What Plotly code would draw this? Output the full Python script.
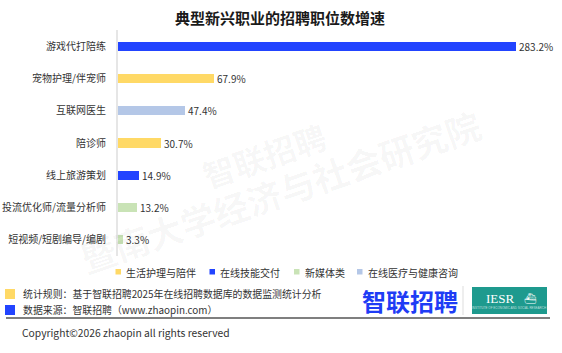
import plotly.graph_objects as go

# ---- data ----
categories = ["游戏代打陪练", "宠物护理/伴宠师", "互联网医生", "陪诊师",
              "线上旅游策划", "投流优化师/流量分析师", "短视频/短剧编导/编剧"]
values = [283.2, 67.9, 47.4, 30.7, 14.9, 13.2, 3.3]
groups = ["在线技能交付", "生活护理与陪伴", "在线医疗与健康咨询", "生活护理与陪伴",
          "在线技能交付", "新媒体类", "新媒体类"]
legend_order = ["生活护理与陪伴", "在线技能交付", "新媒体类", "在线医疗与健康咨询"]
group_colors = {"生活护理与陪伴": "#FFD966", "在线技能交付": "#2244FF",
                "新媒体类": "#C9E3B6", "在线医疗与健康咨询": "#B4C7E7"}
title = "典型新兴职业的招聘职位数增速"
note_rule = "统计规则：基于智联招聘2025年在线招聘数据库的数据监测统计分析"
note_src = "数据来源：智联招聘（www.zhaopin.com）"
copyright_txt = "Copyright©2026 zhaopin all rights reserved"

CJK = "Noto Sans CJK SC, Microsoft YaHei, sans-serif"
W, H = 562, 353
L, R, T, B = 118, 22, 30, 97

fig = go.Figure()
for g in legend_order:
    ys = [c for c, gg in zip(categories, groups) if gg == g]
    xs = [v for v, gg in zip(values, groups) if gg == g]
    fig.add_trace(go.Bar(
        y=ys, x=xs, orientation="h", name=g, showlegend=False,
        marker=dict(color=group_colors[g], line=dict(width=0)),
        width=0.28, text=[f"{v:.1f}%" for v in xs], textposition="outside",
        constraintext="none",
        textfont=dict(family=CJK, size=10, color="#333333"),
        cliponaxis=False, hoverinfo="skip"))

fig.update_layout(
    width=W, height=H, margin=dict(l=L, r=R, t=T, b=B),
    paper_bgcolor="white", plot_bgcolor="white",
    font=dict(family=CJK, color="#333333"),
    barmode="overlay", bargap=0, uniformtext=dict(mode=False),
    xaxis=dict(range=[0, 300], visible=False, fixedrange=True, automargin=False),
    yaxis=dict(categoryorder="array", categoryarray=categories[::-1],
               showline=True, linecolor="#E6E6E6", linewidth=2, automargin=False,
               showgrid=False, ticks="", ticklabelstandoff=8,
               tickfont=dict(family=CJK, size=10, color="#333333")),
)

pw = W - L - R
ph = H - T - B
def px(x):
    return (x - L) / pw
def py(y):
    return (H - B - y) / ph

ann = []
shapes = []
# title
ann.append(dict(text=f"<b>{title}</b>", x=px(280), y=py(17), xref="paper", yref="paper",
                showarrow=False, font=dict(family=CJK, size=15, color="#1a1a1a"),
                xanchor="center", yanchor="middle"))
# watermarks
wm_col = "rgba(0,0,0,0.04)"
ann.append(dict(text="<b>智联招聘</b>", x=px(264), y=py(155), xref="paper", yref="paper",
                showarrow=False, textangle=-19, font=dict(family=CJK, size=32, color=wm_col),
                xanchor="center", yanchor="middle"))
ann.append(dict(text="<b>暨南大学经济与社会研究院</b>", x=px(280), y=py(190), xref="paper", yref="paper",
                showarrow=False, textangle=-19, font=dict(family=CJK, size=35, color=wm_col),
                xanchor="center", yanchor="middle"))
# manual legend
leg_sq_x = [115.5, 209.5, 294, 357]
for g, sx in zip(legend_order, leg_sq_x):
    shapes.append(dict(type="rect", xref="paper", yref="paper",
                       x0=px(sx), x1=px(sx + 5.5), y0=py(269), y1=py(274.5),
                       fillcolor=group_colors[g], line=dict(width=0)))
    ann.append(dict(text=g, x=px(sx + 8.5), y=py(272), xref="paper", yref="paper",
                    showarrow=False, font=dict(family=CJK, size=10, color="#333333"),
                    xanchor="left", yanchor="middle"))
# footer notes
for yy, col, txt in [(294, "#FFD966", note_rule), (310, "#2244FF", note_src)]:
    shapes.append(dict(type="rect", xref="paper", yref="paper",
                       x0=px(5), x1=px(15), y0=py(yy - 5), y1=py(yy + 5),
                       fillcolor=col, line=dict(width=0)))
    ann.append(dict(text=txt, x=px(20.5), y=py(yy), xref="paper", yref="paper",
                    showarrow=False, font=dict(family=CJK, size=9.9, color="#333333"),
                    xanchor="left", yanchor="middle"))
# separator line
shapes.append(dict(type="line", xref="paper", yref="paper", x0=px(6), x1=px(550),
                   y0=py(318), y1=py(318), line=dict(color="#555555", width=1.5)))
ann.append(dict(text=copyright_txt, x=px(20), y=py(332), xref="paper", yref="paper",
                showarrow=False, font=dict(family=CJK, size=10.3, color="#333333"),
                xanchor="left", yanchor="middle"))
# logos
ann.append(dict(text="<b>智联招聘</b>", x=px(410), y=py(300), xref="paper", yref="paper",
                showarrow=False, font=dict(family=CJK, size=24, color="#1E3CF5"),
                xanchor="center", yanchor="middle"))
shapes.append(dict(type="line", xref="paper", yref="paper", x0=px(463), x1=px(463),
                   y0=py(286), y1=py(315), line=dict(color="#DDDDDD", width=1)))
shapes.append(dict(type="rect", xref="paper", yref="paper", x0=px(472), x1=px(547),
                   y0=py(287), y1=py(314), fillcolor="#1E9A8E", line=dict(width=0)))
ann.append(dict(text="IESR", x=px(500), y=py(298), xref="paper", yref="paper",
                showarrow=False, font=dict(family="Liberation Serif, serif", size=13, color="white"),
                xanchor="center", yanchor="middle"))
ann.append(dict(text="⛴", x=px(530), y=py(298), xref="paper", yref="paper",
                showarrow=False, font=dict(family="DejaVu Sans", size=10, color="white"),
                xanchor="center", yanchor="middle"))
ann.append(dict(text="INSTITUTE OF ECONOMIC AND SOCIAL RESEARCH", x=px(509), y=py(307.5),
                xref="paper", yref="paper", showarrow=False,
                font=dict(family="Liberation Sans", size=3, color="rgba(255,255,255,0.7)"),
                xanchor="center", yanchor="middle"))

fig.update_layout(annotations=ann, shapes=shapes)
fig.write_html("out.html")
